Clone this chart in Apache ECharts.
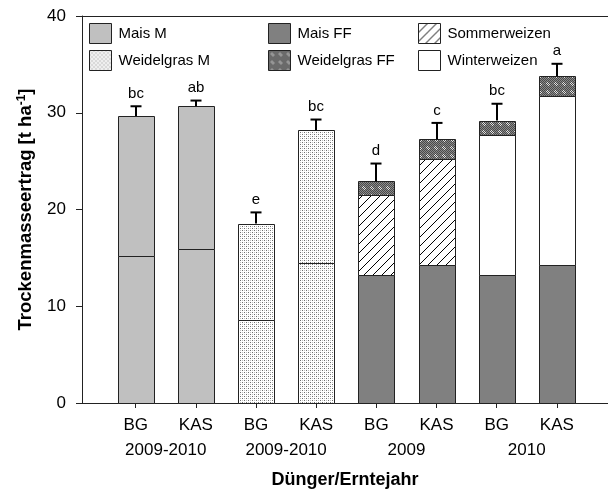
<!DOCTYPE html>
<html><head><meta charset="utf-8">
<script src="https://cdn.jsdelivr.net/npm/echarts@6/dist/echarts.min.js"></script>
<style>html,body{margin:0;padding:0;background:#fff}#c{width:608px;height:494px}</style>
</head><body><div id="c"></div>
<script>
// ---- data ----
const positions = [1, 2, 3, 4, 5, 6, 7, 8];
const duenger = ['BG', 'KAS', 'BG', 'KAS', 'BG', 'KAS', 'BG', 'KAS'];
const yearPositions = [1.5, 3.5, 5.5, 7.5];
const years = ['2009-2010', '2009-2010', '2009', '2010'];
const maisM1 = [15.24, 15.9, null, null, null, null, null, null];
const maisM2 = [14.43, 14.76, null, null, null, null, null, null];
const weidelM1 = [null, null, 8.53, 14.5, null, null, null, null];
const weidelM2 = [null, null, 10.02, 13.7, null, null, null, null];
const maisFF = [null, null, null, null, 13.23, 14.29, 13.23, 14.29];
const sommerweizen = [null, null, null, null, 8.27, 10.91, null, null];
const winterweizen = [null, null, null, null, null, null, 14.52, 17.39];
const weidelFF = [null, null, null, null, 1.4, 2.05, 1.44, 2.08];
const errors = [1.0, 0.6, 1.15, 1.1, 1.85, 1.7, 1.74, 1.3];
const letters = ['bc', 'ab', 'e', 'bc', 'd', 'c', 'bc', 'a'];

// ---- patterns ----
function pat(w, h, draw) {
  const c = document.createElement('canvas'); c.width = w; c.height = h;
  const g = c.getContext('2d'); draw(g); return { image: c, repeat: 'repeat' };
}
const dotPat = pat(4, 4, g => {
  g.fillStyle = '#fff'; g.fillRect(0, 0, 4, 4);
  g.fillStyle = '#6e6e6e'; g.fillRect(0, 0, 1, 1); g.fillRect(2, 2, 1, 1);
  g.fillStyle = '#c0c0c0'; g.fillRect(2, 0, 1, 1); g.fillRect(0, 2, 1, 1);
});
const checkPat = pat(8, 8, g => {
  for (let y = 0; y < 8; y++) for (let x = 0; x < 8; x++) {
    const d = Math.abs(x - 3.5) + Math.abs(y - 3.5);
    const light = d < 3;
    const odd = (x + y) % 2;
    g.fillStyle = light ? (odd ? '#e0e0e0' : '#4a4a4a') : (odd ? '#8a8a8a' : '#4a4a4a');
    g.fillRect(x, y, 1, 1);
  }
});
const hatchPat = pat(9, 9, g => {
  g.fillStyle = '#fff'; g.fillRect(0, 0, 9, 9);
  g.strokeStyle = '#000'; g.lineWidth = 1;
  g.beginPath(); g.moveTo(-1, 10); g.lineTo(10, -1); g.stroke();
});

const FONT = 'Liberation Sans, Arial, sans-serif';
const BAR_W = 36;
const stackOrder = [
  ['Mais M', maisM1, '#c0c0c0'],
  ['Mais M ', maisM2, '#c0c0c0'],
  ['Weidelgras M', weidelM1, dotPat],
  ['Weidelgras M ', weidelM2, dotPat],
  ['Mais FF', maisFF, '#808080'],
  ['Sommerweizen', sommerweizen, hatchPat],
  ['Winterweizen', winterweizen, '#ffffff'],
  ['Weidelgras FF', weidelFF, checkPat]
];
const running = positions.map(() => 0);
const series = [];
stackOrder.forEach(([name, vals, color]) => {
  const data = positions.map((x, i) => {
    if (vals[i] == null) return [x, null, null];
    const base = running[i];
    running[i] += vals[i];
    return [x, base, base + vals[i]];
  }).filter(d => d[1] != null);
  series.push({
    name, type: 'custom', z: 2,
    itemStyle: { color, borderColor: '#222', borderWidth: 1 },
    data,
    encode: { x: 0, y: [1, 2] },
    renderItem: (params, api) => {
      const x = api.value(0);
      const p0 = api.coord([x, api.value(1)]);
      const p1 = api.coord([x, api.value(2)]);
      const left = Math.round(p0[0] - BAR_W / 2) + 0.5;
      const bottom = Math.round(p0[1]) + 0.5;
      const top = Math.round(p1[1]) + 0.5;
      return {
        type: 'rect',
        shape: { x: left, y: top, width: BAR_W, height: bottom - top },
        style: { fill: color, stroke: '#222', lineWidth: 1 }
      };
    }
  });
});
const totals = running.slice();
series.push({
  type: 'custom', name: 'err', z: 5,
  data: positions.map((x, i) => [x, totals[i], totals[i] + errors[i]]),
  encode: { x: 0, y: [1, 2] },
  renderItem: (params, api) => {
    const x = api.value(0);
    const p0 = api.coord([x, api.value(1)]), p1 = api.coord([x, api.value(2)]);
    const cx = Math.round(p0[0]);
    const lbl = letters[params.dataIndex];
    return {
      type: 'group', children: [
        { type: 'line', shape: { x1: cx, y1: p0[1], x2: cx, y2: p1[1] }, style: { stroke: '#000', lineWidth: 2 } },
        { type: 'line', shape: { x1: cx - 5.5, y1: p1[1], x2: cx + 5.5, y2: p1[1] }, style: { stroke: '#000', lineWidth: 2 } },
        { type: 'text', style: { text: lbl, x: cx, y: p1[1] - 5, align: 'center', verticalAlign: 'bottom', font: '15px ' + FONT, fill: '#000' } }
      ]
    };
  }
});

const legendBase = {
  orient: 'vertical', itemWidth: 22, itemHeight: 20, itemGap: 6, icon: 'rect',
  top: 18, selectedMode: false,
  textStyle: { fontFamily: FONT, fontSize: 15, color: '#000', padding: [0, 0, 0, 2] },
  itemStyle: { borderColor: '#222', borderWidth: 1 }
};
const xBase = { type: 'value', min: 0.108, max: 8.85, gridIndex: 0, splitLine: { show: false } };

const chart = echarts.init(document.getElementById('c'), null, { renderer: 'canvas' });
chart.setOption({
  animation: false,
  backgroundColor: '#fff',
  grid: { left: 82, right: 0, top: 16, bottom: 87 },
  legend: [
    Object.assign({}, legendBase, { left: 84, data: ['Mais M', 'Weidelgras M'] }),
    Object.assign({}, legendBase, { left: 263, data: ['Mais FF', 'Weidelgras FF'] }),
    Object.assign({}, legendBase, { left: 413, data: ['Sommerweizen', 'Winterweizen'] })
  ],
  xAxis: [
    Object.assign({}, xBase, {
      position: 'bottom',
      axisLine: { show: true, lineStyle: { color: '#222', width: 1 } },
      axisTick: { show: true, inside: false, length: 5, customValues: positions, lineStyle: { color: '#222' } },
      axisLabel: { customValues: positions, margin: 14, fontFamily: FONT, fontSize: 17, color: '#000',
        formatter: v => duenger[positions.indexOf(Math.round(v))] || '' },
      name: 'Dünger/Erntejahr', nameLocation: 'middle', nameGap: 68,
      nameTextStyle: { fontFamily: FONT, fontSize: 18, fontWeight: 'bold', color: '#000' }
    }),
    Object.assign({}, xBase, {
      position: 'bottom',
      axisLine: { show: false }, axisTick: { show: false },
      axisLabel: { customValues: yearPositions, margin: 39, fontFamily: FONT, fontSize: 17, color: '#000',
        formatter: v => years[yearPositions.indexOf(v)] || '' }
    }),
    Object.assign({}, xBase, {
      position: 'top',
      axisLine: { show: true, lineStyle: { color: '#222', width: 1 } },
      axisTick: { show: false }, axisLabel: { show: false }
    })
  ],
  yAxis: {
    type: 'value', min: 0, max: 40, interval: 10,
    axisLine: { show: true, lineStyle: { color: '#222', width: 1 } },
    axisTick: { show: true, length: 6, lineStyle: { color: '#222' } },
    splitLine: { show: false },
    axisLabel: { margin: 16, fontFamily: FONT, fontSize: 17, color: '#000' },
    name: 'Trockenmasseertrag [t ha{sup|-1}]', nameLocation: 'middle', nameGap: 46,
    nameTextStyle: { fontFamily: FONT, fontSize: 18.5, fontWeight: 'bold', color: '#000',
      rich: { sup: { fontFamily: FONT, fontSize: 12, fontWeight: 'bold', color: '#000', verticalAlign: 'top', padding: [0, 0, 8, 0] } } }
  },
  series
});
</script></body></html>
